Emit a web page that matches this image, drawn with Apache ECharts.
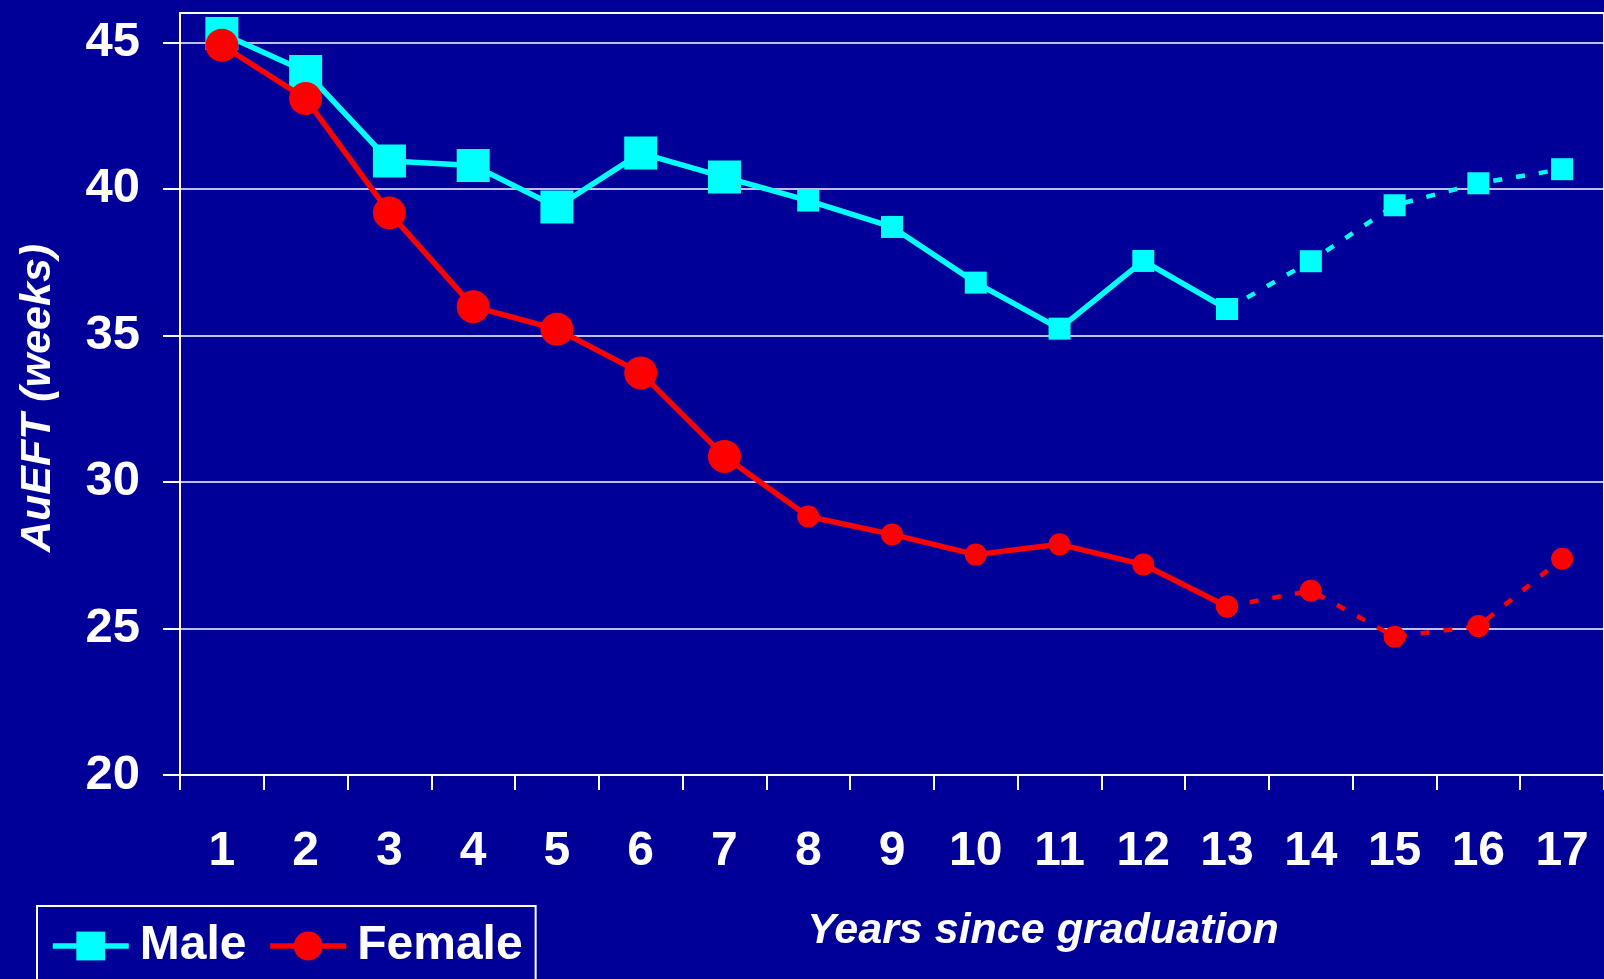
<!DOCTYPE html>
<html>
<head>
<meta charset="utf-8">
<script src="https://cdn.jsdelivr.net/npm/echarts@6/dist/echarts.min.js"></script>
<style>
  html, body { margin: 0; padding: 0; background: #000099; }
  #chart { width: 1604px; height: 979px; }
</style>
</head>
<body>
<div id="chart"></div>
<script>
const categories = ['1','2','3','4','5','6','7','8','9','10','11','12','13','14','15','16','17'];
const male   = [45.3, 44.0, 40.95, 40.8, 39.38, 41.22, 40.4, 39.6, 38.7, 36.8, 35.23, 37.54, 35.9, 37.53, 39.44, 40.19, 40.67];
const female = [44.9, 43.08, 39.18, 35.98, 35.21, 33.72, 30.87, 28.82, 28.21, 27.52, 27.87, 27.18, 25.75, 26.29, 24.72, 25.08, 27.38];
const yTicks = [20, 25, 30, 35, 40, 45];
const solidEnd = 12; // index of year 13: solid up to here, dashed afterwards

const FONT = '"Liberation Sans", Arial, sans-serif';
const solidPart = arr => arr.map((v, i) => i <= solidEnd ? v : '-');
const dashedPart = arr => arr.map((v, i) => i >= solidEnd ? v : '-');
const sizeFn = (v, p) => p.dataIndex < 7 ? 33 : 22;

const chart = echarts.init(document.getElementById('chart'), null, { renderer: 'canvas' });
chart.setOption({
  animation: false,
  backgroundColor: '#000099',
  grid: {
    left: 180, top: 13, right: -4, bottom: 204,
    show: true, borderColor: '#ffffff', borderWidth: 2, containLabel: false
  },
  legend: {
    data: ['Male', 'Female'],
    left: 37, top: 906,
    orient: 'horizontal',
    borderColor: '#ffffff', borderWidth: 2,
    padding: [16, 13, 20, 13],
    itemWidth: 76, itemHeight: 36, itemGap: 21,
    lineStyle: { width: 5.5 },
    textStyle: { color: '#ffffff', fontSize: 48, fontWeight: 'bold', fontFamily: FONT, padding: [0, 0, 0, 6] }
  },
  xAxis: {
    type: 'category',
    data: categories,
    boundaryGap: true,
    axisLine: { show: true, lineStyle: { color: '#ffffff', width: 2 } },
    axisTick: { show: true, length: 15, inside: false, lineStyle: { color: '#ffffff', width: 2 } },
    axisLabel: { color: '#ffffff', fontSize: 48, fontWeight: 'bold', fontFamily: FONT, margin: 53, interval: 0 },
    splitLine: { show: false }
  },
  yAxis: {
    type: 'value',
    min: 20, max: 46, interval: 5,
    name: 'AuEFT (weeks)',
    nameLocation: 'middle',
    nameGap: 120,
    nameTextStyle: { color: '#ffffff', fontSize: 43, fontWeight: 'bold', fontStyle: 'italic', fontFamily: FONT, padding: [0, 8, 0, 0] },
    axisLine: { show: true, lineStyle: { color: '#ffffff', width: 2 } },
    axisTick: { show: true, length: 17, customValues: yTicks, lineStyle: { color: '#ffffff', width: 2 } },
    axisLabel: {
      color: '#ffffff', fontSize: 49, fontWeight: 'bold', fontFamily: FONT, margin: 40,
      customValues: yTicks
    },
    splitLine: { show: true, lineStyle: { color: '#ffffff', width: 1.5 } }
  },
  graphic: [{
    type: 'text',
    x: 1043, y: 931,
    style: {
      text: 'Years since graduation',
      fill: '#ffffff',
      font: 'italic bold 43px ' + FONT,
      textAlign: 'center',
      textVerticalAlign: 'middle'
    }
  }],
  series: [
    {
      name: 'Male', type: 'line', data: solidPart(male),
      symbol: 'rect', symbolSize: sizeFn,
      itemStyle: { color: '#00ffff' },
      lineStyle: { color: '#00ffff', width: 5.5 },
      clip: false, z: 2
    },
    {
      name: 'Male', type: 'line', data: dashedPart(male),
      symbol: 'rect', symbolSize: sizeFn,
      itemStyle: { color: '#00ffff' },
      lineStyle: { color: '#00ffff', width: 4.5, type: [9, 14] },
      clip: false, z: 2
    },
    {
      name: 'Female', type: 'line', data: solidPart(female),
      symbol: 'circle', symbolSize: sizeFn,
      itemStyle: { color: '#ff0000' },
      lineStyle: { color: '#ff0000', width: 5.5 },
      clip: false, z: 3
    },
    {
      name: 'Female', type: 'line', data: dashedPart(female),
      symbol: 'circle', symbolSize: sizeFn,
      itemStyle: { color: '#ff0000' },
      lineStyle: { color: '#ff0000', width: 4.5, type: [9, 14] },
      clip: false, z: 3
    }
  ]
});
</script>
</body>
</html>
